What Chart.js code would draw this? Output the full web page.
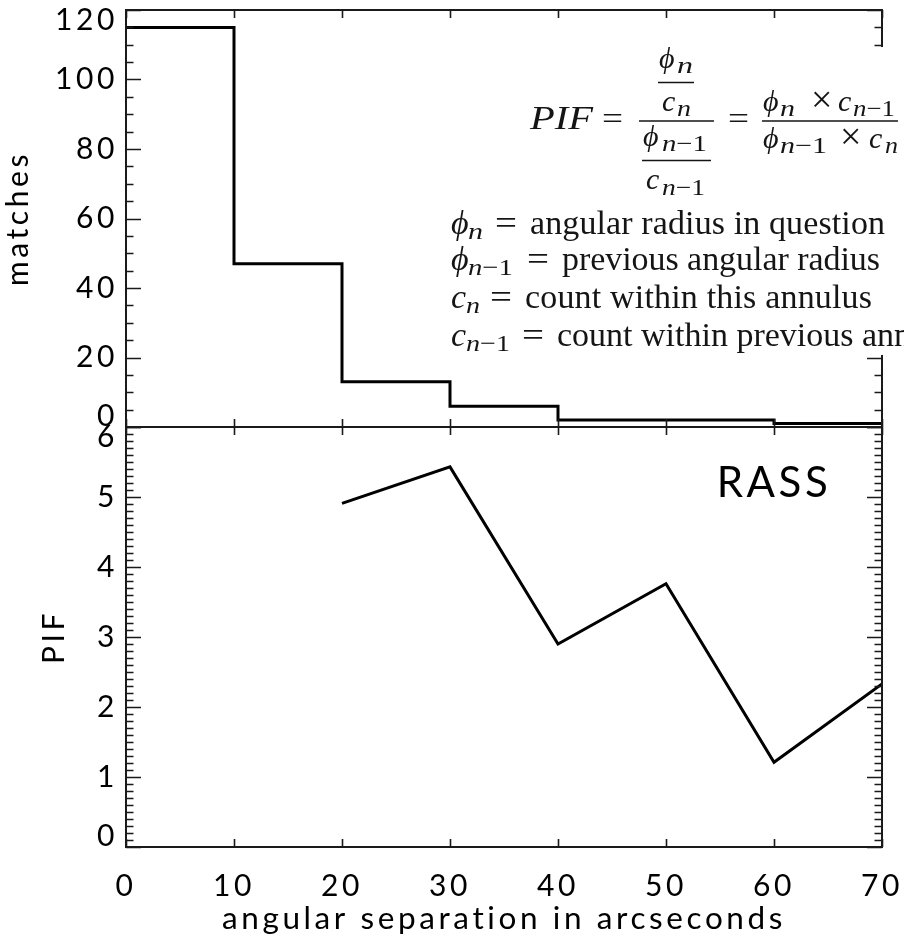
<!DOCTYPE html>
<html>
<head>
<meta charset="utf-8">
<script src="https://cdn.jsdelivr.net/npm/chart.js@4.4.0/dist/chart.umd.min.js"></script>
<style>
  html, body { margin: 0; padding: 0; background: #fff; }
  #wrap { position: relative; width: 904px; height: 946px; overflow: hidden; }
  #wrap canvas, #wrap svg { position: absolute; left: 0; top: 0; }
</style>
</head>
<body>
<div id="wrap">
  <canvas id="pifChart" width="904" height="946"></canvas>
  <canvas id="matchChart" width="904" height="946"></canvas>
  <svg id="formula" width="904" height="946" style="pointer-events:none">
    <rect x="444" y="47" width="460" height="308" fill="#fff"/>
    <g font-family="'Liberation Serif','DejaVu Serif',serif" fill="#151515">
      <text x="530" y="129" font-size="33" font-style="italic" textLength="63" lengthAdjust="spacingAndGlyphs">PIF</text>
      <text x="602" y="129" font-size="32" textLength="21" lengthAdjust="spacingAndGlyphs">=</text>
      <text x="659" y="68" font-size="30" font-style="italic">&#981;</text>
      <text x="677" y="73" font-size="23" font-style="italic" textLength="16" lengthAdjust="spacingAndGlyphs">n</text>
      <text x="662" y="111" font-size="30" font-style="italic">c</text>
      <text x="677" y="116" font-size="23" font-style="italic" textLength="14" lengthAdjust="spacingAndGlyphs">n</text>
      <text x="643" y="146" font-size="30" font-style="italic">&#981;</text>
      <text x="662" y="151" font-size="23" textLength="45" lengthAdjust="spacingAndGlyphs"><tspan font-style="italic">n</tspan>&#8722;1</text>
      <text x="646" y="189" font-size="30" font-style="italic">c</text>
      <text x="662" y="195" font-size="23" textLength="43" lengthAdjust="spacingAndGlyphs"><tspan font-style="italic">n</tspan>&#8722;1</text>
      <text x="728" y="129" font-size="32" textLength="21" lengthAdjust="spacingAndGlyphs">=</text>
      <text x="763" y="111" font-size="30" font-style="italic">&#981;</text>
      <text x="780" y="116" font-size="23" font-style="italic" textLength="15" lengthAdjust="spacingAndGlyphs">n</text>
      <text x="811" y="112" font-size="38">&#215;</text>
      <text x="838" y="111" font-size="30" font-style="italic">c</text>
      <text x="853" y="116" font-size="23" textLength="42" lengthAdjust="spacingAndGlyphs"><tspan font-style="italic">n</tspan>&#8722;1</text>
      <text x="763" y="148" font-size="30" font-style="italic">&#981;</text>
      <text x="780" y="153" font-size="23" textLength="47" lengthAdjust="spacingAndGlyphs"><tspan font-style="italic">n</tspan>&#8722;1</text>
      <text x="840" y="149" font-size="38">&#215;</text>
      <text x="869" y="148" font-size="30" font-style="italic">c</text>
      <text x="885" y="153" font-size="23" font-style="italic" textLength="13" lengthAdjust="spacingAndGlyphs">n</text>

      <text x="451" y="234" font-size="34" font-style="italic">&#981;</text>
      <text x="468" y="239" font-size="24" font-style="italic" textLength="15" lengthAdjust="spacingAndGlyphs">n</text>
      <text x="495" y="234" font-size="34" textLength="22" lengthAdjust="spacingAndGlyphs">=</text>
      <text x="530" y="234" font-size="34" textLength="355">angular radius in question</text>

      <text x="451" y="270" font-size="34" font-style="italic">&#981;</text>
      <text x="468" y="275" font-size="24" textLength="45" lengthAdjust="spacingAndGlyphs"><tspan font-style="italic">n</tspan>&#8722;1</text>
      <text x="527" y="270" font-size="34" textLength="22" lengthAdjust="spacingAndGlyphs">=</text>
      <text x="562" y="270" font-size="34" textLength="318">previous angular radius</text>

      <text x="451" y="308" font-size="34" font-style="italic">c</text>
      <text x="466" y="313" font-size="24" font-style="italic" textLength="14" lengthAdjust="spacingAndGlyphs">n</text>
      <text x="490" y="308" font-size="34" textLength="22" lengthAdjust="spacingAndGlyphs">=</text>
      <text x="525" y="308" font-size="34" textLength="347">count within this annulus</text>

      <text x="451" y="346" font-size="34" font-style="italic">c</text>
      <text x="466" y="351" font-size="24" textLength="44" lengthAdjust="spacingAndGlyphs"><tspan font-style="italic">n</tspan>&#8722;1</text>
      <text x="522" y="346" font-size="34" textLength="22" lengthAdjust="spacingAndGlyphs">=</text>
      <text x="557" y="346" font-size="34">count within previous annulus</text>
    </g>
    <line x1="639" y1="121" x2="714" y2="121" stroke="#151515" stroke-width="1.4"/>
    <line x1="658" y1="82.5" x2="694" y2="82.5" stroke="#151515" stroke-width="1.4"/>
    <line x1="642" y1="160.5" x2="711" y2="160.5" stroke="#151515" stroke-width="1.4"/>
    <line x1="762" y1="121" x2="898" y2="121" stroke="#151515" stroke-width="1.4"/>
  </svg>
</div>
<script>
'use strict'
// histogram bins (arcsec) and number of matches per bin
let binEdges = [0, 10, 20, 30, 40, 50, 60, 70];
let matches = [115, 47, 13, 6, 2, 2, 1];

// PIF values at the outer radius of each annulus
let pifX = [20, 30, 40, 50, 60, 70];
let pifY = [4.91, 5.43, 2.90, 3.76, 1.21, 2.33];

let xTicks = [0, 10, 20, 30, 40, 50, 60, 70];
let matchTicks = [0, 20, 40, 60, 80, 100, 120];
let pifTicks = [0, 1, 2, 3, 4, 5, 6];

let fontName = 'Lato';
let spacing = '3.6px';

// step points: one per left edge, plus the last right edge
let stepPoints = [];
for (let i = 0; i < binEdges.length; i++) {
    stepPoints.push({ x: binEdges[i], y: matches[Math.min(i, matches.length - 1)] });
}
let pifPoints = pifX.map((x, i) => ({ x: x, y: pifY[i] }));

function endLabel(value, index, ticks) {
    // IDL pushes the end labels inside the box a bit
    if (index === 0) return [String(value), ''];
    if (index === ticks.length - 1) return ['', String(value)];
    return String(value);
}

let spacingPlugin = {
    id: 'spacing',
    beforeDraw(chart) {
        chart.ctx.letterSpacing = spacing;
    }
};

// box round the plot with inward ticks on all four sides
let frameTicks = {
    id: 'frameTicks',
    afterDraw(chart, args, opts) {
        let ctx = chart.ctx;
        let a = chart.chartArea;
        let x = chart.scales.x;
        let y = chart.scales.y;
        ctx.save();
        ctx.strokeStyle = '#1a1a1a';
        ctx.lineWidth = 1.6;
        ctx.beginPath();
        let n = Math.round((y.max - y.min) / opts.yMinor);
        for (let i = 0; i <= n; i++) {
            let v = y.min + i * opts.yMinor;
            let r = v / opts.yMajor;
            let len = Math.abs(r - Math.round(r)) < 1e-6 ? 15 : 7.5;
            let py = Math.round(y.getPixelForValue(v)) + 0.5;
            ctx.moveTo(a.left, py); ctx.lineTo(a.left + len, py);
            ctx.moveTo(a.right, py); ctx.lineTo(a.right - len, py);
        }
        xTicks.forEach(v => {
            let px = Math.round(x.getPixelForValue(v)) + 0.5;
            ctx.moveTo(px, a.top); ctx.lineTo(px, a.top + 8);
            ctx.moveTo(px, a.bottom); ctx.lineTo(px, a.bottom - 8);
        });
        ctx.stroke();
        ctx.lineWidth = 2;
        ctx.strokeRect(a.left, a.top, a.right - a.left, a.bottom - a.top);
        if (opts.label) {
            ctx.fillStyle = '#000';
            ctx.font = '42px ' + fontName;
            ctx.textAlign = 'center';
            ctx.textBaseline = 'middle';
            ctx.fillText(opts.label.text, x.getPixelForValue(opts.label.x), y.getPixelForValue(opts.label.y));
        }
        ctx.restore();
    }
};

function yAxis(min, max, ticks, title, titlePad) {
    return {
        min: min,
        max: max,
        grid: { display: false, drawTicks: false },
        border: { display: false },
        afterBuildTicks: s => { s.ticks = ticks.map(v => ({ value: v })); },
        afterFit: s => { s.width = 126; s.paddingTop = 0; s.paddingBottom = 0; },
        ticks: {
            callback: endLabel,
            padding: 8,
            color: '#000',
            font: { family: fontName, size: 30, lineHeight: 0.7 }
        },
        title: {
            display: true,
            text: title,
            color: '#000',
            padding: { top: titlePad, bottom: 0 },
            font: { family: fontName, size: 30 }
        }
    };
}

Chart.defaults.animation = false;

let topChart = new Chart(document.getElementById('matchChart'), {
    type: 'line',
    data: {
        datasets: [{
            data: stepPoints,
            stepped: 'before',
            borderColor: '#000',
            borderWidth: 3,
            pointRadius: 0,
            fill: false
        }]
    },
    options: {
        responsive: false,
        devicePixelRatio: 1,
        layout: { padding: { left: 0, top: 10, right: 22, bottom: 519 } },
        plugins: {
            legend: { display: false },
            tooltip: { enabled: false },
            frameTicks: { yMinor: 5, yMajor: 20 }
        },
        scales: {
            x: { type: 'linear', min: 0, max: 70, display: false },
            y: yAxis(0, 120, matchTicks, 'matches', 0)
        }
    },
    plugins: [spacingPlugin, frameTicks]
});

let bottomChart = new Chart(document.getElementById('pifChart'), {
    type: 'line',
    data: {
        datasets: [{
            data: pifPoints,
            borderColor: '#000',
            borderWidth: 3,
            borderJoinStyle: 'miter',
            pointRadius: 0,
            tension: 0,
            fill: false
        }]
    },
    options: {
        responsive: false,
        devicePixelRatio: 1,
        layout: { padding: { left: 0, top: 427, right: 22, bottom: 0 } },
        plugins: {
            legend: { display: false },
            tooltip: { enabled: false },
            frameTicks: { yMinor: 0.1, yMajor: 1, label: { text: 'RASS', x: 60, y: 5.2 } }
        },
        scales: {
            x: {
                type: 'linear',
                min: 0,
                max: 70,
                grid: { display: false, drawTicks: false },
                border: { display: false },
                afterBuildTicks: s => { s.ticks = xTicks.map(v => ({ value: v })); },
                afterFit: s => { s.height = 99; s.paddingLeft = 0; s.paddingRight = 0; },
                ticks: {
                    padding: 21,
                    maxRotation: 0,
                    color: '#000',
                    font: { family: fontName, size: 30 }
                },
                title: {
                    display: true,
                    text: 'angular separation in arcseconds',
                    color: '#000',
                    padding: { top: 0, bottom: 8 },
                    font: { family: fontName, size: 31.5 }
                }
            },
            y: yAxis(0, 6, pifTicks, 'PIF', 36)
        }
    },
    plugins: [spacingPlugin, frameTicks]
});
</script>
</body>
</html>
